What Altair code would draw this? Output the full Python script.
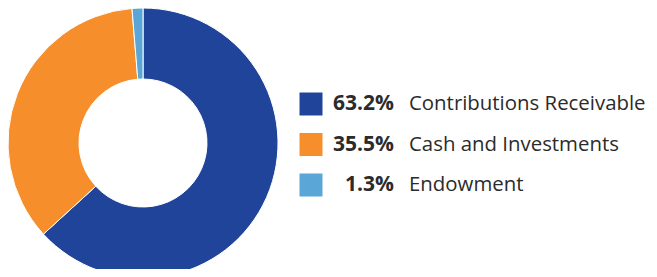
import altair as alt
import pandas as pd

categories = ["Contributions Receivable", "Cash and Investments", "Endowment"]
values = [63.2, 35.5, 1.3]
pct_labels = ["63.2%", "35.5%", "1.3%"]
colors = ["#20449A", "#F58E2B", "#5AA6D6"]

df = pd.DataFrame({
    "cat": categories,
    "value": values,
    "pct": pct_labels,
    "idx": list(range(len(categories))),
})

color_scale = alt.Scale(domain=categories, range=colors)
y_scale = alt.Scale(type="point", domain=categories, range=[96, 177], padding=0)

base = alt.Chart(df)

arc = base.mark_arc(outerRadius=135, innerRadius=64, stroke="white", strokeWidth=1).encode(
    theta=alt.Theta("value:Q", stack=True),
    color=alt.Color("cat:N", scale=color_scale, legend=None),
    order=alt.Order("idx:Q"),
    x=alt.value(135),
    y=alt.value(135),
)

squares = base.mark_square(size=529, opacity=1, filled=True).encode(
    x=alt.value(303),
    y=alt.Y("cat:N", scale=y_scale, axis=None),
    color=alt.Color("cat:N", scale=color_scale, legend=None),
)

pct = base.mark_text(align="right", baseline="middle", font="Open Sans", fontWeight="bold",
                     fontSize=21, color="#2b2b2b").encode(
    x=alt.value(386),
    y=alt.Y("cat:N", scale=y_scale, axis=None),
    text="pct:N",
)

lbl = base.mark_text(align="left", baseline="middle", font="Open Sans",
                     fontSize=20.4, color="#2b2b2b").encode(
    x=alt.value(401),
    y=alt.Y("cat:N", scale=y_scale, axis=None),
    text="cat:N",
)

chart = alt.layer(arc, squares, pct, lbl).properties(
    width=641, height=261, padding=0, autosize=alt.AutoSizeParams(type="none")
).configure_view(stroke=None)

chart.save("out.html", embed_options={"renderer": "svg", "actions": False})
